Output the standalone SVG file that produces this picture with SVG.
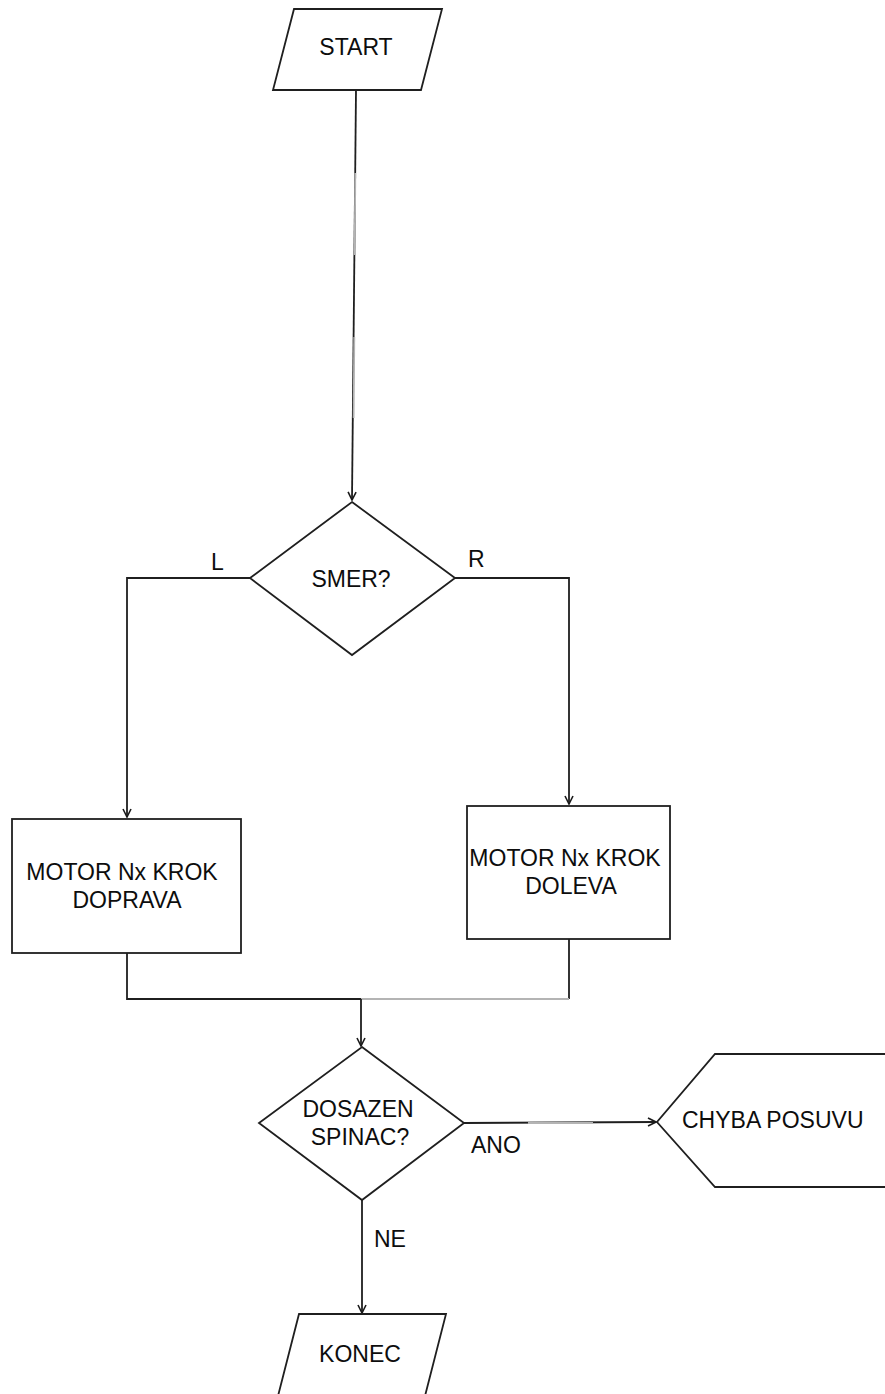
<svg xmlns="http://www.w3.org/2000/svg" width="885" height="1394" viewBox="0 0 885 1394">
  <defs>
    <marker id="arrow" viewBox="0 0 10 10" refX="9" refY="5" markerWidth="10" markerHeight="10" markerUnits="userSpaceOnUse" orient="auto">
      <path d="M1,1 L9,5 L1,9" fill="none" stroke="#1a1a1a" stroke-width="1.6"/>
    </marker>
  </defs>
  <style>
    .shape { fill: #ffffff; stroke: #1f1f1f; stroke-width: 1.8; }
    .line { fill: none; stroke: #1f1f1f; stroke-width: 1.8; }
    .faint { fill: none; stroke: #b4b4b4; stroke-width: 1.8; }
    text { font-family: "Liberation Sans", Arial, sans-serif; font-size: 23px; fill: #0d0d0d; }
    .c { text-anchor: middle; }
  </style>

  <rect width="885" height="1394" fill="#ffffff"/>

  <!-- connectors -->
  <g id="connectors">
    <path class="line" d="M356,90 L352,500" marker-end="url(#arrow)"/>
    <path class="faint" d="M355.3,173 L354.7,255"/>
    <path class="faint" d="M354.3,337 L353.6,418"/>
    <path class="line" d="M250,578 L127,578 L127,817" marker-end="url(#arrow)"/>
    <path class="line" d="M455,578 L569,578 L569,804" marker-end="url(#arrow)"/>
    <path class="line" d="M127,953 L127,999 L361,999"/>
    <path class="line" d="M569,939 L569,999"/>
    <path class="faint" d="M569,999 L361,999"/>
    <path class="line" d="M361,999 L361,1046" marker-end="url(#arrow)"/>
    <path class="line" d="M464,1123 L656,1122" marker-end="url(#arrow)"/>
    <path class="faint" d="M528,1123 L593,1123"/>
    <path class="line" d="M362,1200 L362,1313" marker-end="url(#arrow)"/>
  </g>

  <!-- branch labels -->
  <g id="labels">
    <text x="211" y="570">L</text>
    <text x="468" y="567">R</text>
    <text x="471" y="1153">ANO</text>
    <text x="374" y="1247">NE</text>
  </g>

  <g id="start">
    <polygon class="shape" points="294,9 442,9 421,90 273,90"/>
    <text class="c" x="356" y="55">START</text>
  </g>

  <g id="smer">
    <polygon class="shape" points="352,502 455,578 352,655 250,578"/>
    <text class="c" x="351" y="587">SMER?</text>
  </g>

  <g id="motor-doprava">
    <rect class="shape" x="12" y="819" width="229" height="134"/>
    <text class="c" x="122" y="880">MOTOR Nx KROK</text>
    <text class="c" x="127" y="908">DOPRAVA</text>
  </g>

  <g id="motor-doleva">
    <rect class="shape" x="467" y="806" width="203" height="133"/>
    <text class="c" x="565" y="866">MOTOR Nx KROK</text>
    <text class="c" x="571" y="894">DOLEVA</text>
  </g>

  <g id="dosazen">
    <polygon class="shape" points="362,1047 464,1123 362,1200 259,1123"/>
    <text class="c" x="358" y="1117">DOSAZEN</text>
    <text class="c" x="360" y="1145">SPINAC?</text>
  </g>

  <g id="chyba">
    <polyline class="shape" points="890,1054 715,1054 657,1122 715,1187 890,1187"/>
    <text x="682" y="1128">CHYBA POSUVU</text>
  </g>

  <g id="konec">
    <polygon class="shape" points="299,1314 446,1314 425,1396 278,1396"/>
    <text class="c" x="360" y="1362">KONEC</text>
  </g>
</svg>
